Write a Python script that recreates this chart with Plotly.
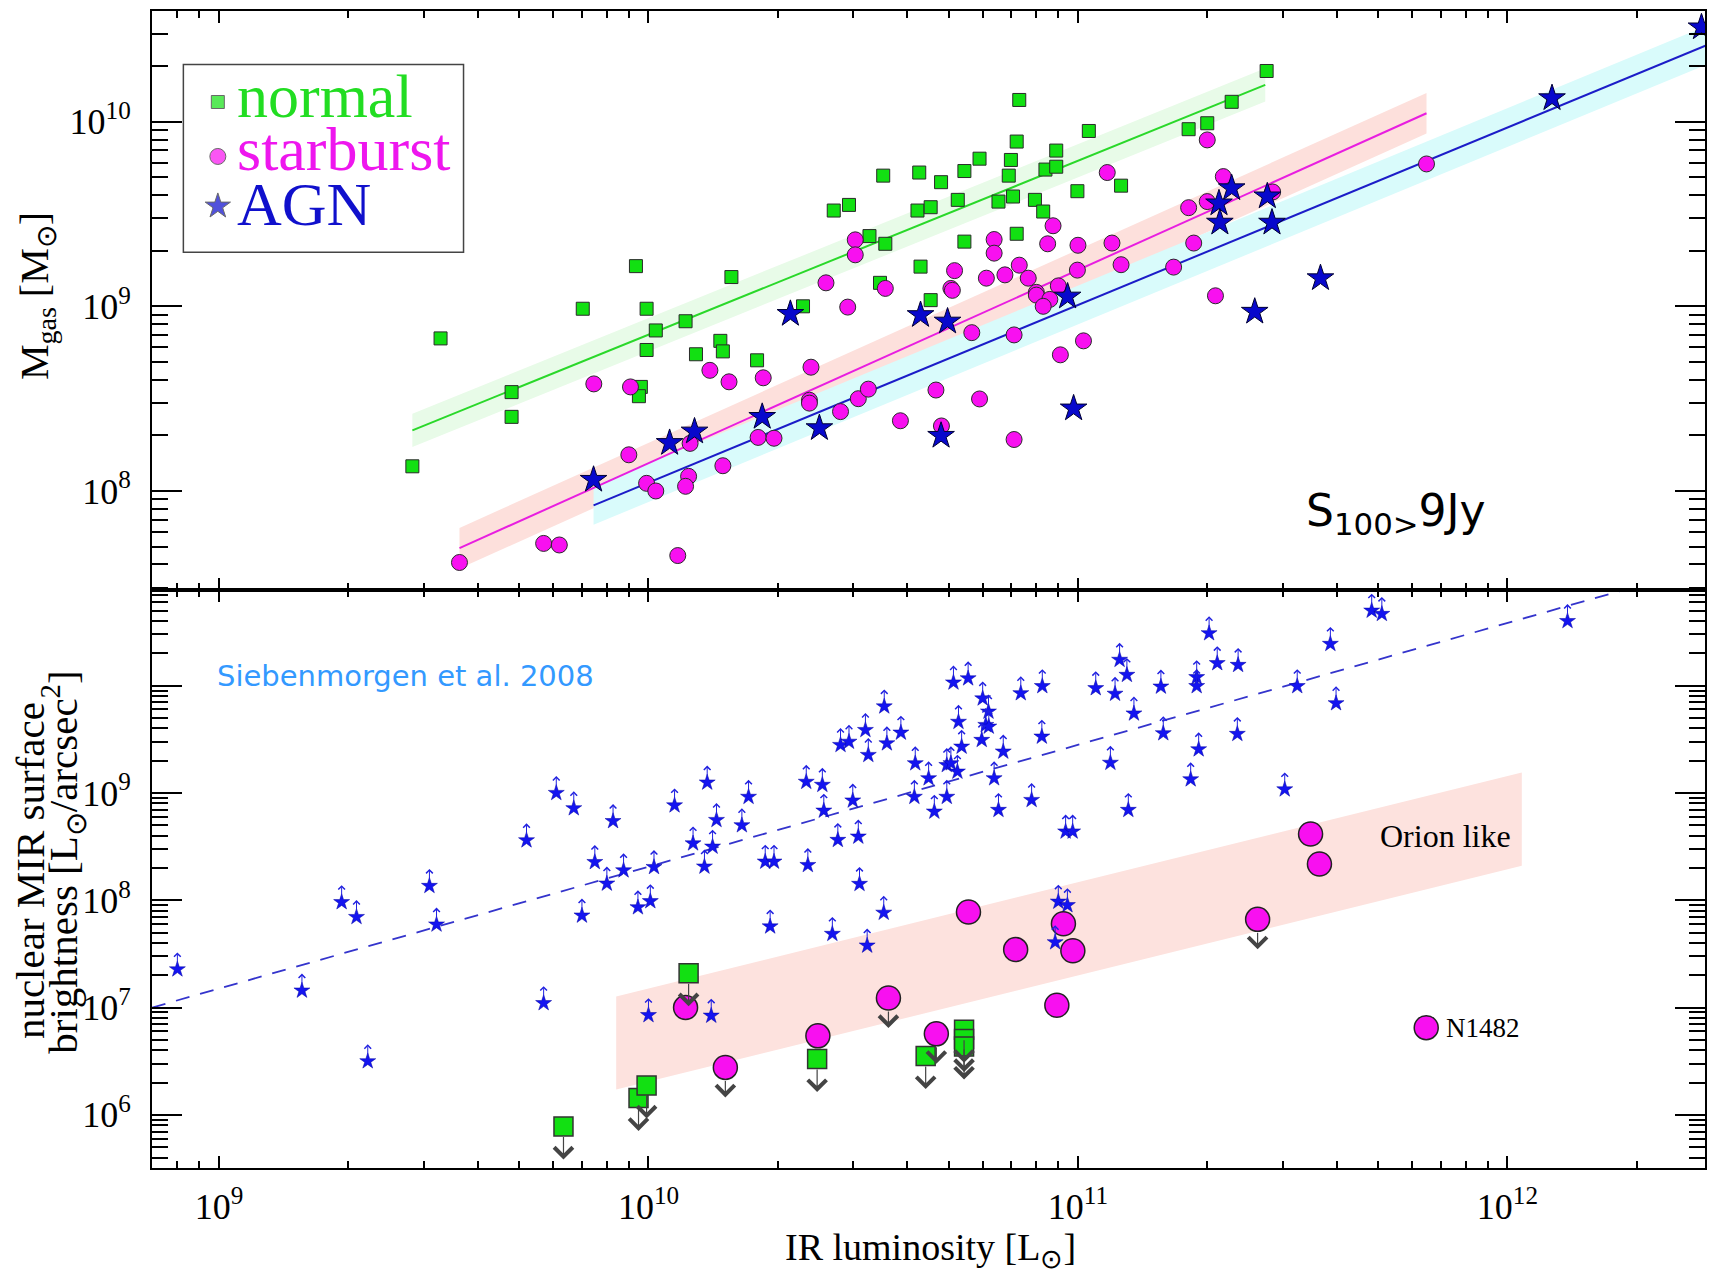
import math
import plotly.graph_objects as go

# ---------------- upper panel: gas mass vs IR luminosity ----------------
normal_lir = [2.82e9, 3.28e9, 4.8e9, 4.8e9, 7.03e9, 9.35e9, 9.9e9, 1.04e10, 9.9e9, 9.6e9,
              9.5e9, 1.22e10, 1.56e10, 1.29e10, 1.47e10, 1.49e10, 1.79e10,
              2.29e10, 2.7e10, 2.93e10, 3.27e10, 3.56e10, 3.46e10, 3.52e10, 4.27e10, 4.23e10,
              4.54e10, 4.3e10, 4.54e10, 4.8e10, 5.25e10, 5.44e10, 5.44e10, 5.9e10, 6.53e10,
              7.06e10, 6.9e10, 6.98e10, 7.2e10, 7.3e10, 7.2e10, 7.94e10, 8.3e10, 8.4e10,
              8.9e10, 8.9e10, 9.97e10, 1.06e11, 1.26e11, 1.81e11, 2.0e11, 2.28e11, 2.75e11]
normal_mgas = [1.36e8, 6.7e8, 3.43e8, 2.52e8, 9.7e8, 1.65e9, 9.7e8, 7.4e8, 5.8e8, 3.66e8,
               3.26e8, 8.3e8, 1.44e9, 5.5e8, 6.5e8, 5.7e8, 5.1e8,
               1.0e9, 3.3e9, 3.54e9, 2.4e9, 2.18e9, 1.34e9, 5.1e9, 5.3e9, 3.3e9,
               3.44e9, 1.64e9, 1.08e9, 4.7e9, 3.77e9, 5.4e9, 2.24e9, 6.3e9, 3.69e9,
               3.93e9, 5.1e9, 6.2e9, 7.8e9, 1.31e10, 2.47e9, 3.77e9, 3.26e9, 5.5e9,
               6.97e9, 5.7e9, 4.2e9, 8.9e9, 4.5e9, 9.1e9, 9.8e9, 1.28e10, 1.88e10]

starburst_lir = [7.46e9, 9.08e9, 1.39e10, 1.54e10, 1.85e10, 9.0e9, 1.25e10, 9.9e9, 1.04e10,
                 1.24e10, 1.22e10, 1.49e10, 1.8e10, 1.96e10, 5.7e9, 6.2e9, 3.63e9, 1.17e10,
                 2.0e11, 1.17e11, 2.18e11, 1.81e11, 2.0e11, 1.86e11, 1.67e11, 2.09e11,
                 8.75e10, 8.5e10, 1.0e11, 1.2e11, 1.26e11, 9.97e10, 6.38e10, 6.38e10,
                 7.3e10, 7.66e10, 6.76e10, 6.12e10, 9.0e10, 8.0e10, 8.0e10, 8.6e10, 8.3e10,
                 5.16e10, 5.06e10, 5.1e10, 3.03e10, 3.03e10, 2.59e10, 3.56e10, 2.91e10,
                 5.66e10, 7.1e10, 9.1e10, 1.03e11, 2.39e10, 2.37e10, 2.37e10, 3.08e10,
                 3.25e10, 2.8e10, 3.86e10, 4.67e10, 4.81e10, 5.9e10, 7.1e10,
                 6.48e11, 2.84e11]
starburst_mgas = [3.8e8, 3.66e8, 4.5e8, 3.9e8, 4.1e8, 1.57e8, 1.81e8, 1.1e8, 1.0e8,
                  1.2e8, 1.06e8, 1.37e8, 1.95e8, 1.93e8, 5.2e7, 5.1e7, 4.1e7, 4.47e7,
                  7.96e9, 5.3e9, 5.04e9, 3.42e9, 3.69e9, 2.2e9, 1.63e9, 1.14e9,
                  2.73e9, 2.18e9, 2.14e9, 2.2e9, 1.68e9, 1.57e9, 2.3e9, 1.94e9,
                  1.67e9, 1.42e9, 1.48e9, 1.42e9, 1.29e9, 1.19e9, 1.15e9, 1.09e9, 1.0e9,
                  1.56e9, 1.25e9, 1.22e9, 2.29e9, 1.9e9, 1.34e9, 1.25e9, 9.9e8,
                  7.2e8, 7.0e8, 5.46e8, 6.5e8, 4.68e8, 3.1e8, 2.99e8, 3.16e8,
                  3.56e8, 2.69e8, 2.4e8, 3.52e8, 2.25e8, 3.15e8, 1.9e8,
                  5.9e9, 4.16e9]

agn_lir = [7.45e9, 1.12e10, 1.28e10, 1.84e10, 2.14e10, 2.5e10, 4.3e10, 4.97e10, 4.8e10,
           9.77e10, 9.46e10, 2.28e11, 2.13e11, 2.14e11, 2.58e11, 2.76e11, 2.83e11,
           3.67e11, 1.27e12, 2.83e12]
agn_mgas = [1.15e8, 1.82e8, 2.1e8, 2.52e8, 9.1e8, 2.19e8, 8.97e8, 8.27e8, 1.99e8,
            2.8e8, 1.13e9, 4.36e9, 3.61e9, 2.84e9, 9.35e8, 3.94e9, 2.84e9,
            1.42e9, 1.34e10, 3.24e10]

# fitted relations (end points) and half-widths of their scatter bands (dex)
normal_fit_lir = [2.82e9, 2.73e11]
normal_fit_mgas = [2.13e8, 1.58e10]
normal_band_dex = 0.09
starburst_fit_lir = [3.63e9, 6.48e11]
starburst_fit_mgas = [4.9e7, 1.11e10]
starburst_band_dex = 0.11
agn_fit_lir = [7.45e9, 3.5e12]
agn_fit_mgas = [8.36e7, 3.1e10]
agn_band_dex = 0.105

# ---------------- lower panel: nuclear MIR surface brightness ----------------
sieb_lir = [8.0e8, 1.56e9, 1.93e9, 2.09e9, 2.22e9, 3.09e9, 3.21e9, 5.2e9, 5.7e9, 6.1e9,
            6.7e9, 7.0e9, 7.5e9, 8.0e9, 8.27e9, 8.75e9, 9.45e9, 1.01e10, 1.03e10, 1.0e10,
            1.15e10, 1.27e10, 1.35e10, 1.37e10, 1.41e10, 1.44e10, 1.65e10, 1.71e10,
            1.87e10, 1.96e10, 1.92e10, 2.33e10, 2.54e10, 2.35e10, 2.56e10, 2.76e10,
            2.99e10, 3.08e10, 3.1e10, 3.53e10, 2.8e10, 2.93e10, 3.2e10, 3.25e10, 3.54e10,
            3.59e10, 3.87e10, 4.18e10, 4.16e10, 4.49e10, 4.63e10, 4.95e10, 5.06e10,
            5.24e10, 4.95e10, 5.13e10, 5.55e10, 5.27e10, 5.36e10, 6.0e10, 6.19e10, 6.1e10,
            6.2e10, 5.97e10, 6.7e10, 6.38e10, 6.53e10, 7.36e10, 7.8e10, 2.68e10, 3.23e10,
            8.85e10, 1.4e10, 8.26e10, 8.24e10, 9.36e10, 9.72e10, 1.1e11, 1.22e11, 1.25e11,
            1.3e11, 1.35e11, 1.19e11, 1.31e11, 1.56e11, 1.58e11, 1.89e11, 1.89e11, 1.91e11,
            1.83e11, 2.02e11, 2.11e11, 2.36e11, 2.35e11, 3.03e11, 3.24e11, 3.87e11, 3.99e11,
            4.83e11, 5.1e11, 9.0e10, 9.45e10, 1.38e12]
sieb_sb = [2.27e7, 1.44e7, 9.6e7, 6.98e7, 3.16e6, 1.36e8, 5.94e7, 3.62e8, 1.1e7, 1.0e9,
           7.2e8, 7.2e7, 2.27e8, 1.43e8, 5.47e8, 1.9e8, 8.6e7, 9.8e7, 2.04e8, 8.5e6,
           7.66e8, 3.39e8, 2.06e8, 1.25e9, 3.16e8, 5.6e8, 5.0e8, 9.2e8,
           2.29e8, 2.29e8, 5.7e7, 1.27e9, 1.19e9, 2.13e8, 6.84e8, 3.65e8,
           8.5e8, 3.92e8, 1.42e8, 7.65e7, 2.8e9, 3.0e9, 3.86e9, 2.26e9, 6.4e9,
           2.9e9, 3.65e9, 1.89e9, 9.2e8, 1.37e9, 6.7e8, 1.82e9, 1.89e9,
           1.58e9, 9.2e8, 1.07e10, 1.17e10, 4.6e9, 2.7e9, 7.6e9, 5.73e9, 4.3e9,
           4.15e9, 3.12e9, 2.43e9, 1.37e9, 6.95e8, 8.5e9, 8.6e8, 4.86e7, 3.78e7,
           4.06e7, 8.4e6, 9.9e9, 3.35e9, 4.37e8, 4.37e8, 9.47e9, 8.4e9, 1.74e10,
           1.26e10, 5.5e9, 1.91e9, 6.95e8, 9.8e9, 3.6e9, 1.2e10, 9.9e9, 2.55e9,
           1.34e9, 3.08e10, 1.62e10, 1.56e10, 3.55e9, 1.08e9, 9.9e9, 2.45e10, 6.86e9,
           5.0e10, 4.66e10, 9.7e7, 9.0e7, 4.0e10]

sb_lir = [1.22e10, 1.51e10, 2.48e10, 3.62e10, 4.68e10, 5.56e10, 7.16e10, 9.25e10, 9.73e10,
          8.93e10, 3.48e11, 3.65e11, 2.62e11, 6.47e11]
sb_sb = [1.0e7, 2.77e6, 5.45e6, 1.23e7, 5.69e6, 7.78e7, 3.47e7, 6.04e7, 3.39e7,
         1.05e7, 4.15e8, 2.18e8, 6.64e7, 6.5e6]
sb_upper_limit = [False, True, False, True, True, False, False, False, False,
                  False, False, False, True, False]

norm_lir = [6.34e9, 9.48e9, 9.9e9, 1.24e10, 2.47e10, 4.42e10, 5.43e10, 5.43e10, 5.43e10]
norm_sb = [7.8e5, 1.44e6, 1.88e6, 2.09e7, 3.31e6, 3.53e6, 6.2e6, 5.1e6, 4.33e6]

relation_lir = [6.98e8, 1.95e12]
relation_sb = [1.0e7, 8.2e10]

orion_lir = [8.41e9, 1.08e12]
orion_low = [1.72e6, 2.1e8]
orion_high = [1.27e7, 1.55e9]

n1482_lir = 6.47e11
n1482_sb = 6.5e6

# ---------------- styling ----------------
GREEN = "#12e012"
MAGENTA = "#f810f0"
BLUE_TOP = "#0808cc"
BLUE_LOW = "#1414f0"
SERIF = "Liberation Serif"


def band(xs, ys, dex):
    f = 10 ** dex
    return list(xs) + list(xs[::-1]), [y * f for y in ys] + [y / f for y in ys[::-1]]


def minor_vals(lo, hi):
    return [m * 10.0 ** k for k in range(lo, hi) for m in range(2, 10)]


fig = go.Figure()

# upper panel bands
for xs, ys, dex, col in [(normal_fit_lir, normal_fit_mgas, normal_band_dex, "#e8fbe8"),
                         (starburst_fit_lir, starburst_fit_mgas, starburst_band_dex, "#fde0dc"),
                         (agn_fit_lir, agn_fit_mgas, agn_band_dex, "#d9fbfb")]:
    bx, by = band(xs, ys, dex)
    fig.add_trace(go.Scatter(x=bx, y=by, mode="lines", fill="toself", fillcolor=col,
                             line=dict(width=0), hoverinfo="skip",
                             xaxis="x2", yaxis="y2"))

# upper panel fit lines
for xs, ys, col in [(normal_fit_lir, normal_fit_mgas, "#2ad82a"),
                    (starburst_fit_lir, starburst_fit_mgas, "#e81ee0"),
                    (agn_fit_lir, agn_fit_mgas, "#1c1cc8")]:
    fig.add_trace(go.Scatter(x=xs, y=ys, mode="lines", line=dict(color=col, width=2),
                             xaxis="x2", yaxis="y2"))

fig.add_trace(go.Scatter(x=normal_lir, y=normal_mgas, mode="markers", name="normal",
                         marker=dict(symbol="square", size=13, color=GREEN,
                                     line=dict(color="#2a2a2a", width=1)),
                         xaxis="x2", yaxis="y2"))
fig.add_trace(go.Scatter(x=starburst_lir, y=starburst_mgas, mode="markers", name="starburst",
                         marker=dict(symbol="circle", size=16, color=MAGENTA,
                                     line=dict(color="#2a2a2a", width=1)),
                         xaxis="x2", yaxis="y2"))
fig.add_trace(go.Scatter(x=agn_lir, y=agn_mgas, mode="markers", name="AGN",
                         marker=dict(symbol="star", size=20, color=BLUE_TOP,
                                     line=dict(color="#000033", width=1)),
                         xaxis="x2", yaxis="y2"))

# lower panel
fig.add_trace(go.Scatter(x=orion_lir + orion_lir[::-1], y=orion_low + orion_high[::-1],
                         mode="lines", fill="toself", fillcolor="#fde2de",
                         line=dict(width=0), hoverinfo="skip", xaxis="x", yaxis="y"))
fig.add_trace(go.Scatter(x=relation_lir, y=relation_sb, mode="lines",
                         line=dict(color="#3434cc", width=1.8, dash="14px,11px"),
                         xaxis="x", yaxis="y"))
fig.add_trace(go.Scatter(x=sieb_lir, y=sieb_sb, mode="markers",
                         marker=dict(symbol="star", size=12, color=BLUE_LOW,
                                     line=dict(color="#0000a0", width=0.5)),
                         xaxis="x", yaxis="y"))
fig.add_trace(go.Scatter(x=sb_lir, y=sb_sb, mode="markers",
                         marker=dict(symbol="circle", size=24, color=MAGENTA,
                                     line=dict(color="#222222", width=1.5)),
                         xaxis="x", yaxis="y"))
fig.add_trace(go.Scatter(x=norm_lir, y=norm_sb, mode="markers",
                         marker=dict(symbol="square", size=19, color=GREEN,
                                     line=dict(color="#333333", width=1.5)),
                         xaxis="x", yaxis="y"))

# legend key symbols on a small overlay axis
fig.add_trace(go.Scatter(x=[0.123, 0.123, 0.123], y=[0.80, 0.51, 0.245], mode="markers",
                         marker=dict(symbol=["square", "circle", "star"], size=[13, 16, 19],
                                     color=[GREEN, MAGENTA, BLUE_TOP],
                                     line=dict(color="#2a2a2a", width=1)),
                         xaxis="x3", yaxis="y3"))

annotations = []


def limit_arrow(x, y, up, length, color, width, size, standoff):
    d = length if up else -length
    return dict(x=math.log10(x), y=math.log10(y), xref="x", yref="y", text="",
                showarrow=True, ax=0, ay=d, yshift=d, arrowhead=4, arrowsize=size,
                arrowwidth=width, arrowcolor=color, startstandoff=standoff,
                font=dict(size=1))


# lower limits on the AGN nuclei
for x, y in zip(sieb_lir, sieb_sb):
    annotations.append(limit_arrow(x, y, True, 17, "#2020e0", 1, 1.3, 4))
# upper limits
for x, y, lim in zip(sb_lir, sb_sb, sb_upper_limit):
    if lim:
        annotations.append(limit_arrow(x, y, False, 30, "#444444", 1.2, 3.0, 12))
for x, y in zip(norm_lir, norm_sb):
    annotations.append(limit_arrow(x, y, False, 33, "#444444", 1.2, 3.0, 9))

# text labels
annotations += [
    dict(x=math.log10(n1482_lir), y=math.log10(n1482_sb), xref="x", yref="y",
         text="N1482", showarrow=False, xanchor="left", xshift=18,
         font=dict(family=SERIF, size=27, color="black")),
    dict(x=0.7897, y=0.2869, xref="paper", yref="paper", text="Orion like",
         showarrow=False, xanchor="left", yanchor="middle",
         font=dict(family=SERIF, size=32, color="black")),
    dict(x=0.0405, y=0.4252, xref="paper", yref="paper", text="Siebenmorgen et al. 2008",
         showarrow=False, xanchor="left", yanchor="middle",
         font=dict(family="DejaVu Sans", size=29, color="#3399ff")),
    dict(x=0.7415, y=0.566, xref="paper", yref="paper", text="S<sub>100&gt;</sub>9Jy",
         showarrow=False, xanchor="left", yanchor="middle",
         font=dict(family="DejaVu Sans", size=44, color="black")),
    dict(x=0.0536, y=0.9265, xref="paper", yref="paper", text="normal",
         showarrow=False, xanchor="left", yanchor="middle",
         font=dict(family=SERIF, size=62, color="#22dd22")),
    dict(x=0.0536, y=0.8807, xref="paper", yref="paper", text="starburst",
         showarrow=False, xanchor="left", yanchor="middle",
         font=dict(family=SERIF, size=62, color="#ee16ee")),
    dict(x=0.0536, y=0.8332, xref="paper", yref="paper", text="AGN",
         showarrow=False, xanchor="left", yanchor="middle",
         font=dict(family=SERIF, size=62, color="#1010cc")),
    # axis titles
    dict(x=0.5016, y=-0.071, xref="paper", yref="paper", text="IR luminosity [L<sub>⊙</sub>]",
         showarrow=False, xanchor="center", yanchor="middle",
         font=dict(family=SERIF, size=38, color="black")),
    dict(x=-0.074, y=0.7537, xref="paper", yref="paper",
         text="M<sub>gas</sub> [M<sub>⊙</sub>]", textangle=-90,
         showarrow=False, xanchor="center", yanchor="middle",
         font=dict(family=SERIF, size=40, color="black")),
    dict(x=-0.0785, y=0.2567, xref="paper", yref="paper",
         text="nuclear MIR surface", textangle=-90,
         showarrow=False, xanchor="center", yanchor="middle",
         font=dict(family=SERIF, size=41, color="black")),
    dict(x=-0.0575, y=0.2645, xref="paper", yref="paper",
         text="brightness [L<sub>⊙</sub>/arcsec<sup>2</sup>]", textangle=-90,
         showarrow=False, xanchor="center", yanchor="middle",
         font=dict(family=SERIF, size=41, color="black")),
]

tickfont = dict(family=SERIF, size=36, color="black")
x_ticks = [1e9, 1e10, 1e11, 1e12]
x_ticktext = ["10<sup>9</sup>", "10<sup>10</sup>", "10<sup>11</sup>", "10<sup>12</sup>"]
top_y_ticks = [1e8, 1e9, 1e10]
top_y_ticktext = ["10<sup>8</sup>", "10<sup>9</sup>", "10<sup>10</sup>"]
low_y_ticks = [1e6, 1e7, 1e8, 1e9, 1e10]
low_y_ticktext = ["10<sup>6</sup>", "10<sup>7</sup>", "10<sup>8</sup>", "10<sup>9</sup>", ""]


def log_axis(rng, tickvals, ticktext, major_len, minor_len, minor, show_labels=True, **kw):
    d = dict(type="log", range=rng, showline=True, linecolor="black", linewidth=2,
             mirror="ticks", ticks="inside", ticklen=major_len, tickwidth=2,
             tickcolor="black", showgrid=False, zeroline=False,
             tickmode="array", tickvals=tickvals, ticktext=ticktext,
             showticklabels=show_labels, tickfont=tickfont,
             minor=dict(ticks="inside", ticklen=minor_len, tickwidth=1.5,
                        tickcolor="black", tickmode="array", tickvals=minor,
                        showgrid=False))
    d.update(kw)
    return d


split = 0.4996
fig.update_layout(
    width=1712, height=1273,
    margin=dict(l=152, r=5, t=11, b=105),
    paper_bgcolor="white", plot_bgcolor="white",
    showlegend=False,
    xaxis=log_axis([8.844, 12.46], x_ticks, x_ticktext, 12, 7, minor_vals(8, 13),
                   anchor="y", domain=[0, 1], ticklabelstandoff=6),
    xaxis2=log_axis([8.844, 12.46], x_ticks, x_ticktext, 12, 7, minor_vals(8, 13),
                    show_labels=False, anchor="y2", domain=[0, 1]),
    yaxis=log_axis([5.505, 10.892], low_y_ticks, low_y_ticktext, 30, 16, minor_vals(5, 11),
                   anchor="x", domain=[0, split], ticklabelstandoff=12),
    yaxis2=log_axis([7.464, 10.599], top_y_ticks, top_y_ticktext, 30, 16, minor_vals(7, 11),
                    anchor="x2", domain=[split, 1], ticklabelstandoff=12),
    xaxis3=dict(domain=[0.0202, 0.2006], range=[0, 1], anchor="y3", visible=False,
                fixedrange=True),
    yaxis3=dict(domain=[0.7915, 0.9538], range=[0, 1], anchor="x3", visible=False,
                fixedrange=True),
    shapes=[dict(type="rect", xref="paper", yref="paper", x0=0.0202, x1=0.2006,
                 y0=0.7915, y1=0.9538, line=dict(color="#444444", width=1.5))],
    annotations=annotations,
)

fig.write_html("out.html")
